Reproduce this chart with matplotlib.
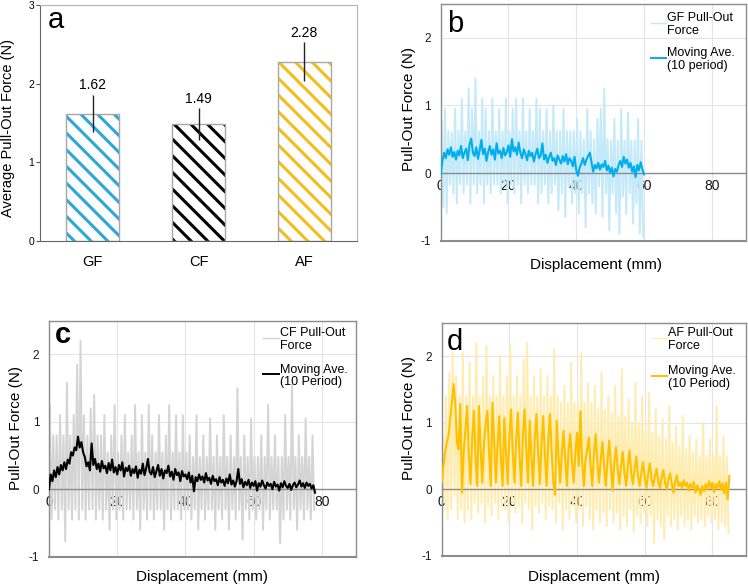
import numpy as np
import matplotlib
matplotlib.use("Agg")
import matplotlib.pyplot as plt

plt.rcParams["font.family"] = ["Liberation Sans", "DejaVu Sans"]
plt.rcParams["axes.unicode_minus"] = False
plt.rcParams["hatch.linewidth"] = 2.2

# ---- panel a: average pull-out force ----
fibres = ["GF", "CF", "AF"]
avg_force = [1.62, 1.49, 2.28]
avg_err = [0.24, 0.20, 0.245]

# ---- moving averages (10 period), read every 0.5 mm ----
MA_STEP = 0.5
gf_ma = [-0.02, 0.18, 0.30, 0.22, 0.35, 0.27, 0.38, 0.24, 0.31, 0.20,
         0.33, 0.26, 0.40, 0.22, 0.30, 0.36, 0.19, 0.42, 0.51, 0.30,
         0.25, 0.38, 0.21, 0.34, 0.49, 0.28, 0.36, 0.18, 0.31, 0.40,
         0.27, 0.35, 0.20, 0.44, 0.29, 0.33, 0.22, 0.37, 0.26, 0.31,
         0.41, 0.24, 0.50, 0.32, 0.38, 0.27, 0.45, 0.30, 0.22, 0.35,
         0.28, 0.19, 0.33, 0.25, 0.30, 0.17, 0.28, 0.36, 0.22, 0.26,
         0.44, 0.20, 0.27, 0.15, 0.24, 0.30, 0.18, 0.22, 0.12, 0.26,
         0.20, 0.14, 0.25, 0.17, 0.28, 0.13, 0.22, 0.18, 0.10, 0.24,
         0.04, -0.04, 0.08, 0.14, 0.22, 0.12, 0.20, 0.25, 0.30, 0.16,
         0.02, 0.12, 0.07, 0.15, 0.05, 0.13, 0.09, 0.18, 0.04, 0.11,
         0.00, 0.08, -0.05, 0.06, 0.02, 0.12, 0.18, 0.09, 0.24, 0.14,
         0.20, 0.08, 0.15, 0.02, 0.10, -0.06, 0.12, 0.04, 0.16, 0.06,
         -0.02]
cf_ma = [0.00, 0.22, 0.12, 0.28, 0.18, 0.33, 0.22, 0.36, 0.28, 0.40,
         0.30, 0.44, 0.38, 0.55, 0.50, 0.62, 0.58, 0.78, 0.62, 0.70,
         0.55, 0.48, 0.34, 0.40, 0.28, 0.68, 0.36, 0.45, 0.30, 0.38,
         0.26, 0.42, 0.31, 0.35, 0.24, 0.39, 0.28, 0.44, 0.25, 0.33,
         0.22, 0.36, 0.28, 0.40, 0.19, 0.32, 0.27, 0.35, 0.20, 0.30,
         0.24, 0.34, 0.17, 0.29, 0.23, 0.38, 0.21, 0.31, 0.45, 0.26,
         0.22, 0.33, 0.18, 0.27, 0.36, 0.20, 0.30, 0.16, 0.28, 0.24,
         0.35, 0.19, 0.26, 0.14, 0.30, 0.21, 0.25, 0.12, 0.27, 0.19,
         0.22, 0.15, 0.25, 0.10, 0.20, -0.03, 0.18, 0.12, 0.22, 0.14,
         0.19, 0.10, 0.24, 0.13, 0.17, 0.08, 0.20, 0.12, 0.15, 0.06,
         0.18, 0.10, 0.14, 0.05, 0.16, 0.09, 0.22, 0.07, 0.13, 0.04,
         0.12, 0.30, 0.08, 0.15, 0.03, 0.11, 0.06, 0.14, 0.02, 0.10,
         0.05, 0.12, -0.02, 0.09, 0.04, 0.13, 0.06, 0.01, 0.10, 0.05,
         0.08, 0.00, 0.11, 0.04, 0.07, -0.02, 0.09, 0.03, 0.12, 0.05,
         0.02, 0.08, -0.01, 0.06, 0.10, 0.03, 0.07, 0.13, 0.04, 0.09,
         0.02, 0.10, 0.05, 0.08, 0.01, 0.06,
         -0.05]
af_ma = [0.10, 0.35, 0.55, 0.70, 0.80, 1.05, 1.30, 1.58, 1.30, 0.70,
         0.60, 1.28, -0.05, 0.55, 0.90, 1.25, 0.55, 0.08, 0.75, 1.18,
         0.50, 0.05, 1.25, 0.60, 0.10, 0.70, 1.00, 1.18, 0.55, 0.05,
         1.30, 0.70, 0.10, 0.65, 1.10, 0.45, 0.05, 1.07, 0.55, 0.08,
         0.80, 1.20, 0.55, 0.10, 0.75, 1.15, 0.50, 0.05, 0.80, 1.20,
         0.60, 0.10, 1.03, 0.50, 0.05, 0.75, 1.13, 0.55, 0.08, 0.70,
         1.10, 0.50, 0.05, 0.75, 1.13, 0.55, 0.10, -0.08, 1.03, 0.50,
         0.10, 0.55, 0.88, 0.45, 0.05, 0.60, 0.83, 0.40, 0.10, 0.55,
         0.85, 0.35, 1.17, 0.40, 0.05, 0.45, 0.60, 0.78, 0.35, 0.05,
         0.55, 0.83, 0.40, 0.10, 0.45, 0.71, 0.35, 0.05, 0.45, 0.73,
         0.35, -0.02, 0.40, 0.63, 0.30, 0.08, 0.35, 0.56, 0.25, 0.05,
         0.35, 0.58, 0.25, 0.08, 0.30, 0.49, 0.20, 0.05, 0.25, 0.41,
         0.18, 0.02, 0.22, 0.39, 0.15, 0.05, 0.20, 0.31, 0.12, 0.02,
         0.18, 0.29, 0.10, 0.00, 0.15, 0.24, 0.08, -0.05, 0.12, 0.21,
         0.05, 0.10, 0.02, 0.14, 0.05, 0.10, -0.02, 0.08, 0.03, 0.11,
         -0.05, 0.06, 0.00, -0.08, 0.05, -0.03, 0.08, 0.00, 0.12, 0.02,
         0.10, -0.04, 0.08, 0.02, 0.12, 0.00, 0.09, -0.06, 0.10, -0.15,
         0.20]

# ---- raw pull-out force: peak and trough in each 1 mm step ----
gf_hi = [0.78, 0.95, 0.62, 0.60, 0.95, 0.63, 1.10, 0.62, 1.25, 0.95,
         1.40, 0.62, 1.10, 0.95, 0.62, 1.10, 0.62, 0.95, 0.62, 1.10,
         0.62, 0.95, 1.10, 0.62, 1.10, 0.62, 0.95, 0.62, 1.10, 0.95,
         0.62, 0.95, 0.62, 1.00, 0.62, 0.62, 0.95, 0.62, 0.62, 0.62,
         0.80, 0.62, 0.50, 0.95, 0.62, 0.50, 0.80, 0.95, 1.25, 0.50,
         0.48, 0.80, 0.48, 0.95, 0.48, 0.90, 0.48, 0.48, 0.80, 0.48]
gf_lo = [-0.50, -0.60, -0.17, -0.30, -0.45, -0.17, -0.30, -0.17, -0.45, -0.17,
         -0.30, -0.17, -0.45, -0.17, -0.30, -0.17, -0.17, -0.30, -0.17, -0.45,
         -0.17, -0.30, -0.17, -0.45, -0.17, -0.30, -0.17, -0.17, -0.45, -0.30,
         -0.17, -0.45, -0.30, -0.17, -0.55, -0.30, -0.65, -0.20, -0.45, -0.30,
         -0.60, -0.30, -0.80, -0.30, -0.45, -0.60, -0.20, -0.65, -0.30, -0.85,
         -0.30, -0.60, -0.90, -0.35, -0.60, -0.30, -0.75, -0.45, -0.90, -0.95]
cf_hi = [1.25, 0.80, 0.80, 1.10, 0.80, 1.58, 0.80, 1.10, 1.85, 2.20,
         1.10, 0.80, 1.20, 1.40, 0.80, 0.80, 1.10, 0.55, 0.80, 1.25,
         0.55, 0.80, 1.10, 0.55, 0.80, 1.25, 0.55, 1.10, 0.55, 1.25,
         0.80, 0.55, 1.10, 0.55, 0.80, 1.25, 0.55, 1.10, 0.55, 1.10,
         0.55, 0.80, 0.48, 1.10, 0.48, 0.80, 0.48, 1.05, 0.48, 0.80,
         0.48, 1.10, 0.48, 0.80, 0.48, 1.50, 0.48, 0.80, 0.48, 1.05,
         0.48, 0.48, 0.80, 0.48, 1.25, 0.48, 0.80, 0.48, 0.48, 1.10,
         0.48, 1.55, 0.48, 0.80, 0.48, 1.05, 0.48, 0.80]
cf_lo = [-0.45, -0.30, -0.45, -0.30, -0.77, -0.30, -0.45, -0.30, -0.45, -0.30,
         -0.45, -0.30, -0.30, -0.45, -0.30, -0.45, -0.30, -0.60, -0.30, -0.45,
         -0.30, -0.45, -0.30, -0.30, -0.45, -0.30, -0.60, -0.30, -0.45, -0.30,
         -0.45, -0.30, -0.30, -0.60, -0.30, -0.45, -0.30, -0.30, -0.45, -0.30,
         -0.30, -0.45, -0.30, -0.60, -0.30, -0.45, -0.30, -0.30, -0.60, -0.30,
         -0.45, -0.30, -0.60, -0.30, -0.45, -0.30, -0.75, -0.30, -0.45, -0.30,
         -0.45, -0.30, -0.60, -0.30, -0.45, -0.30, -0.30, -0.80, -0.45, -0.30,
         -0.45, -0.30, -0.60, -0.30, -0.45, -0.30, -0.45, -0.30]
af_hi = [0.80, 1.40, 1.75, 2.05, 1.70, 1.40, 2.05, 1.40, 1.90, 1.40,
         2.20, 1.40, 1.70, 2.15, 1.40, 1.70, 1.40, 2.00, 1.40, 1.70,
         2.15, 1.40, 1.70, 1.40, 1.95, 2.20, 1.40, 1.70, 1.40, 1.80,
         1.40, 1.70, 1.40, 2.10, 1.40, 1.30, 1.55, 1.30, 1.90, 1.30,
         1.30, 2.05, 1.30, 1.60, 1.30, 1.55, 1.20, 1.75, 1.20, 1.40,
         1.15, 1.55, 1.10, 1.80, 1.10, 1.35, 1.00, 1.60, 1.00, 1.40,
         0.90, 1.45, 0.85, 1.20, 0.80, 1.05, 0.75, 1.25, 0.70, 0.95,
         0.65, 1.10, 0.60, 0.80, 0.55, 0.75, 0.50, 1.00, 0.50, 0.75,
         0.50, 1.25, 0.50, 0.80, 0.50]
af_lo = [-0.20, -0.45, -0.30, -0.10, -0.45, -0.30, -0.50, -0.30, -0.45, -0.20,
         -0.35, -0.20, -0.50, -0.25, -0.40, -0.20, -0.45, -0.25, -0.30, -0.50,
         -0.20, -0.35, -0.25, -0.50, -0.20, -0.30, -0.60, -0.25, -0.35, -0.20,
         -0.45, -0.25, -0.30, -0.50, -0.20, -0.60, -0.30, -0.45, -0.25, -0.50,
         -0.30, -0.55, -0.25, -0.45, -0.60, -0.30, -0.50, -0.35, -0.55, -0.30,
         -0.50, -0.35, -0.60, -0.40, -0.55, -0.30, -0.65, -0.40, -0.50, -0.35,
         -0.55, -0.40, -0.80, -0.45, -0.55, -0.75, -0.40, -0.55, -0.45, -0.60,
         -0.40, -0.55, -0.45, -0.60, -0.40, -0.50, -0.45, -0.55, -0.40, -0.50,
         -0.45, -0.60, -0.50, -0.55, -0.65]

SPINE = "#8C8C8C"


def raw_xy(hi, lo):
    x, y = [], []
    for i, (h, l) in enumerate(zip(hi, lo)):
        x += [i + 0.25, i + 0.75]
        y += [h, l]
    return x, y


def style_signal(ax):
    ax.set_xlim(0, 90); ax.set_ylim(-1, 2.5)
    ax.set_xticks([0, 20, 40, 60, 80]); ax.set_yticks([-1, 0, 1, 2])
    ax.grid(color="#E4E4E4", lw=0.8); ax.set_axisbelow(True)
    for s in ax.spines.values():
        s.set_color(SPINE); s.set_linewidth(1)
    ax.spines["bottom"].set_position(("data", 0))
    ax.axhline(-1, color=SPINE, lw=1.5, clip_on=False)
    ax.tick_params(length=0, colors="#1a1a1a")
    ax.tick_params(axis="x", labelsize=10, pad=4)
    ax.tick_params(axis="y", labelsize=8.5, pad=7)
    ax.set_xlabel("Displacement (mm)", fontsize=11)
    ax.set_ylabel("Pull-Out Force (N)", fontsize=11)


def legend(ax, x0, ys, items):
    for y, (lab, col, lw) in zip(ys, items):
        ax.plot([x0, x0 + 0.05], [y, y], color=col, lw=lw, transform=ax.transAxes, clip_on=False)
        ax.text(x0 + 0.053, y, lab, transform=ax.transAxes, fontsize=9, va="center_baseline",
                ha="left", linespacing=1.1)


def signal_panel(ax, hi, lo, ma, raw_col, ma_col, letter, lx, ly, labs, lx0, lys, bold=False):
    style_signal(ax)
    rx, ry = raw_xy(hi, lo)
    ax.plot(rx, ry, color=raw_col, lw=1.4, zorder=2)
    mx = np.arange(len(ma)) * MA_STEP
    ax.plot(mx, ma, color=ma_col, lw=1.5, zorder=3)
    ax.text(lx, ly, letter, transform=ax.transAxes, fontsize=21, va="baseline",
            fontweight="bold" if bold else "normal")
    legend(ax, lx0, lys, [(labs[0], raw_col, 1.0), (labs[1], ma_col, 1.4)])


fig = plt.figure(figsize=(7.48, 5.86), dpi=100)

# ---- a ----
ax = fig.add_axes([0.0535, 0.5887, 0.4238, 0.4027])
xpos = np.arange(len(fibres))
stripe = ["#2AA8D6", "#000000", "#F2BE1A"]
for i in range(len(fibres)):
    ax.bar(xpos[i], avg_force[i], 0.5, color="white", edgecolor=stripe[i], hatch="\\\\", lw=0)
ax.bar(xpos, avg_force, 0.5, fill=False, edgecolor="#A8A8A8", lw=1)
ax.errorbar(xpos, avg_force, yerr=avg_err, fmt="none", ecolor="#222222", elinewidth=1, capsize=0)
for x, v, e in zip(xpos, avg_force, avg_err):
    ax.text(x, v + e + 0.03, f"{v:.2f}", ha="center", va="bottom", fontsize=10)
ax.set_xlim(-0.5, 2.5); ax.set_ylim(0, 3)
ax.set_yticks([0, 1, 2, 3]); ax.set_xticks(xpos); ax.set_xticklabels(fibres)
ax.tick_params(axis="y", labelsize=7.5, length=3, pad=1, color="#555555")
ax.tick_params(axis="x", labelsize=10.5, length=0, pad=10)
for s in ["top", "right"]:
    ax.spines[s].set_color("#B4B4B4")
for s in ["left", "bottom"]:
    ax.spines[s].set_color("#666666")
ax.set_ylabel("Average Pull-Out Force (N)", fontsize=10.5)
ax.yaxis.set_label_coords(-0.08, 0.481)
ax.text(0.025, 0.902, "a", transform=ax.transAxes, fontsize=21, va="baseline")

# ---- b ----
ax = fig.add_axes([0.5892, 0.5893, 0.4077, 0.4039])
signal_panel(ax, gf_hi, gf_lo, gf_ma, "#C4EAFA", "#00AEEF", "b", 0.02, 0.883,
             ["GF Pull-Out\nForce", "Moving Ave.\n(10 period)"], 0.689, [0.92, 0.772])
ax.xaxis.set_label_coords(0.51, -0.074)
ax.yaxis.set_label_coords(-0.082, 0.556)

# ---- c ----
ax = fig.add_axes([0.0655, 0.0500, 0.4104, 0.4027])
signal_panel(ax, cf_hi, cf_lo, cf_ma, "#D4D4D4", "#000000", "c", 0.02, 0.904,
             ["CF Pull-Out\nForce", "Moving Ave.\n(10 Period)"], 0.698, [0.927, 0.774], bold=True)
ax.xaxis.set_label_coords(0.5, -0.056)
ax.yaxis.set_label_coords(-0.085, 0.544)

# ---- d ----
ax = fig.add_axes([0.5905, 0.0512, 0.4072, 0.3981])
signal_panel(ax, af_hi, af_lo, af_ma, "#FFECB0", "#FFC000", "d", 0.018, 0.883,
             ["AF Pull-Out\nForce", "Moving Ave.\n(10 Period)"], 0.691, [0.935, 0.773])
ax.xaxis.set_label_coords(0.5, -0.06)
ax.yaxis.set_label_coords(-0.085, 0.59)

fig.savefig("out.png", dpi=100)
